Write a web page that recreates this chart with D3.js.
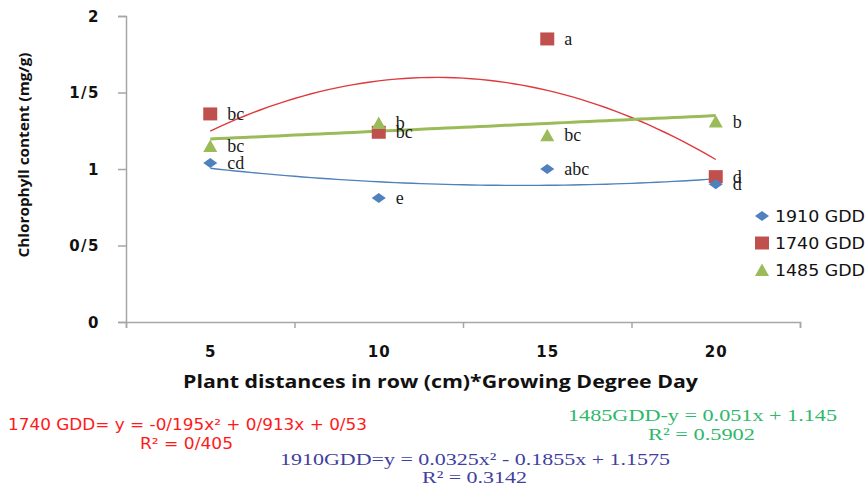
<!DOCTYPE html>
<html>
<head>
<meta charset="utf-8">
<script src="https://cdn.jsdelivr.net/npm/d3@7"></script>
<style>
  html, body { margin: 0; padding: 0; background: #fff; }
  svg { display: block; }
</style>
</head>
<body>
<svg id="chart" width="866" height="487"></svg>
<script>
// Category labels on the x axis and the sampling positions of each series
const categories = ["5", "10", "15", "20"];
const xIndex = [1, 2, 3, 4];

// Chlorophyll content (mg/g) per growing-degree-day group
const series1910 = [1.04, 0.81, 1.00, 0.90];
const series1740 = [1.36, 1.24, 1.85, 0.95];
const series1485 = [1.15, 1.30, 1.22, 1.31];

// Mean-comparison letters
const letters1910 = ["cd", "e", "abc", "d"];
const letters1740 = ["bc", "bc", "a", "d"];
const letters1485 = ["bc", "b", "bc", "b"];

// Trendline coefficients: y = a·x² + b·x + c
const coef1910 = [0.0325, -0.1855, 1.1575];
const coef1740 = [-0.195, 0.913, 0.53];
const coef1485 = [0, 0.051, 1.145];

// Y axis ticks and their printed labels
const yTicks = [0, 0.5, 1, 1.5, 2];
const yTickLabels = ["0", "0/5", "1", "1/5", "2"];

// X axis tick marks sit between categories
const xTickMarks = [0.5, 1.5, 2.5, 3.5, 4.5];

const legendNames = ["1910 GDD", "1740 GDD", "1485 GDD"];

const colors = { blue: "#4f81bd", red: "#c0504d", green: "#9bbb59" };

const svg = d3.select("#chart");

const y = d3.scaleLinear().domain([0, 2]).range([322, 16]);
const xPt = d3.scaleLinear().domain([0.5, 4.5]).range([126, 800]);

const axisColor = "#a6a6a6";

// Y axis
const yAxis = d3.axisLeft(y).tickValues(yTicks).tickSize(8).tickFormat((d, i) => yTickLabels[i]);
const gy = svg.append("g").attr("transform", "translate(126,0)").call(yAxis);
gy.select(".domain").attr("stroke", axisColor).attr("stroke-width", 1.5);
gy.selectAll(".tick line").attr("stroke", axisColor).attr("stroke-width", 1.5);
gy.selectAll(".tick text")
  .attr("x", -26)
  .attr("dy", "0.36em")
  .attr("fill", "#111")
  .style("font-family", "DejaVu Sans")
  .style("font-weight", "bold")
  .style("font-size", "15px")
  .style("letter-spacing", "1.5px");

// X axis: tick marks between categories
const xAxisMarks = d3.axisBottom(xPt).tickValues(xTickMarks).tickSize(6).tickFormat("");
const gx = svg.append("g").attr("transform", "translate(0,322)").call(xAxisMarks);
gx.select(".domain").attr("stroke", axisColor).attr("stroke-width", 1.5);
gx.selectAll(".tick line").attr("stroke", axisColor).attr("stroke-width", 1.5);

// X axis: category labels under each position
const xAxisLabels = d3.axisBottom(xPt).tickValues(xIndex).tickSize(0).tickPadding(24)
  .tickFormat((d, i) => categories[i]);
const gxl = svg.append("g").attr("transform", "translate(0,322)").call(xAxisLabels);
gxl.select(".domain").remove();
gxl.selectAll(".tick text")
  .attr("fill", "#111")
  .style("font-family", "DejaVu Sans")
  .style("font-weight", "bold")
  .style("font-size", "15px")
  .style("letter-spacing", "1px");

// Axis titles
svg.append("text")
  .attr("transform", "translate(29,155) rotate(-90)")
  .attr("text-anchor", "middle")
  .attr("textLength", 205).attr("lengthAdjust", "spacingAndGlyphs")
  .style("font-family", "Open Sans").style("font-weight", "bold").style("font-size", "15px")
  .attr("fill", "#111")
  .text("Chlorophyll content (mg/g)");

svg.append("text")
  .attr("x", 183).attr("y", 388)
  .attr("textLength", 515).attr("lengthAdjust", "spacingAndGlyphs")
  .style("font-family", "Open Sans").style("font-weight", "bold").style("font-size", "17px")
  .attr("fill", "#111")
  .text("Plant distances in row (cm)*Growing Degree Day");

// Trendlines
const quad = c => x => c[0] * x * x + c[1] * x + c[2];
const samples = d3.range(1, 4.0001, 0.05);
const trendLine = (coef, color, width) => {
  const f = quad(coef);
  svg.append("path")
    .datum(samples)
    .attr("fill", "none")
    .attr("stroke", color)
    .attr("stroke-width", width)
    .attr("d", d3.line().x(d => xPt(d)).y(d => y(f(d))));
};
trendLine(coef1740, "#e0393b", 1.4);
trendLine(coef1485, colors.green, 3);
trendLine(coef1910, colors.blue, 1.4);

// Marker shapes
const diamond = "M0,-5 L7,0 L0,5 L-7,0 Z";
const square = "M-7,-6.5 L7,-6.5 L7,6.5 L-7,6.5 Z";
const triangle = "M0,-6.5 L7,6 L-7,6 Z";

const drawSeries = (values, letters, shape, color) => {
  const g = svg.append("g");
  g.selectAll("path").data(values).join("path")
    .attr("d", shape)
    .attr("fill", color)
    .attr("transform", (d, i) => `translate(${xPt(xIndex[i])},${y(d)})`);
  g.selectAll("text").data(values).join("text")
    .attr("x", (d, i) => xPt(xIndex[i]) + 17)
    .attr("y", d => y(d) + 6)
    .style("font-family", "Liberation Serif")
    .style("font-size", "18px")
    .attr("fill", "#1a1a1a")
    .text((d, i) => letters[i]);
};
drawSeries(series1740, letters1740, square, colors.red);
drawSeries(series1485, letters1485, triangle, colors.green);
drawSeries(series1910, letters1910, diamond, colors.blue);

// Legend
const legendShapes = [diamond, square, triangle];
const legendColors = [colors.blue, colors.red, colors.green];
const lg = svg.append("g");
legendNames.forEach((name, i) => {
  const ly = 216 + i * 27;
  lg.append("path").attr("d", legendShapes[i]).attr("fill", legendColors[i])
    .attr("transform", `translate(762,${ly})`);
  lg.append("text")
    .attr("x", 775).attr("y", ly + 5.5)
    .attr("textLength", 90).attr("lengthAdjust", "spacingAndGlyphs")
    .style("font-family", "DejaVu Sans").style("font-size", "15px")
    .attr("fill", "#111")
    .text(name);
});

// Trendline equations
const eq = (txt, x, yy, len, color, family, size) => {
  svg.append("text")
    .attr("x", x).attr("y", yy)
    .style("font-family", family).style("font-size", size + "px")
    .attr("fill", color)
    .attr("textLength", len).attr("lengthAdjust", "spacingAndGlyphs")
    .text(txt);
};
eq("1740 GDD= y = -0/195x² + 0/913x + 0/53", 8, 430, 359, "#ff1a1a", "DejaVu Sans", 15);
eq("R² = 0/405", 140, 449, 93, "#ff1a1a", "DejaVu Sans", 15);
eq("1485GDD-y = 0.051x + 1.145", 568, 421, 269, "#2fb86b", "Liberation Serif", 17);
eq("R² = 0.5902", 648, 440, 107, "#2fb86b", "Liberation Serif", 17);
eq("1910GDD=y = 0.0325x² - 0.1855x + 1.1575", 280, 465, 390, "#3f3fa0", "Liberation Serif", 17);
eq("R² = 0.3142", 422, 483, 105, "#3f3fa0", "Liberation Serif", 17);
</script>
</body>
</html>
